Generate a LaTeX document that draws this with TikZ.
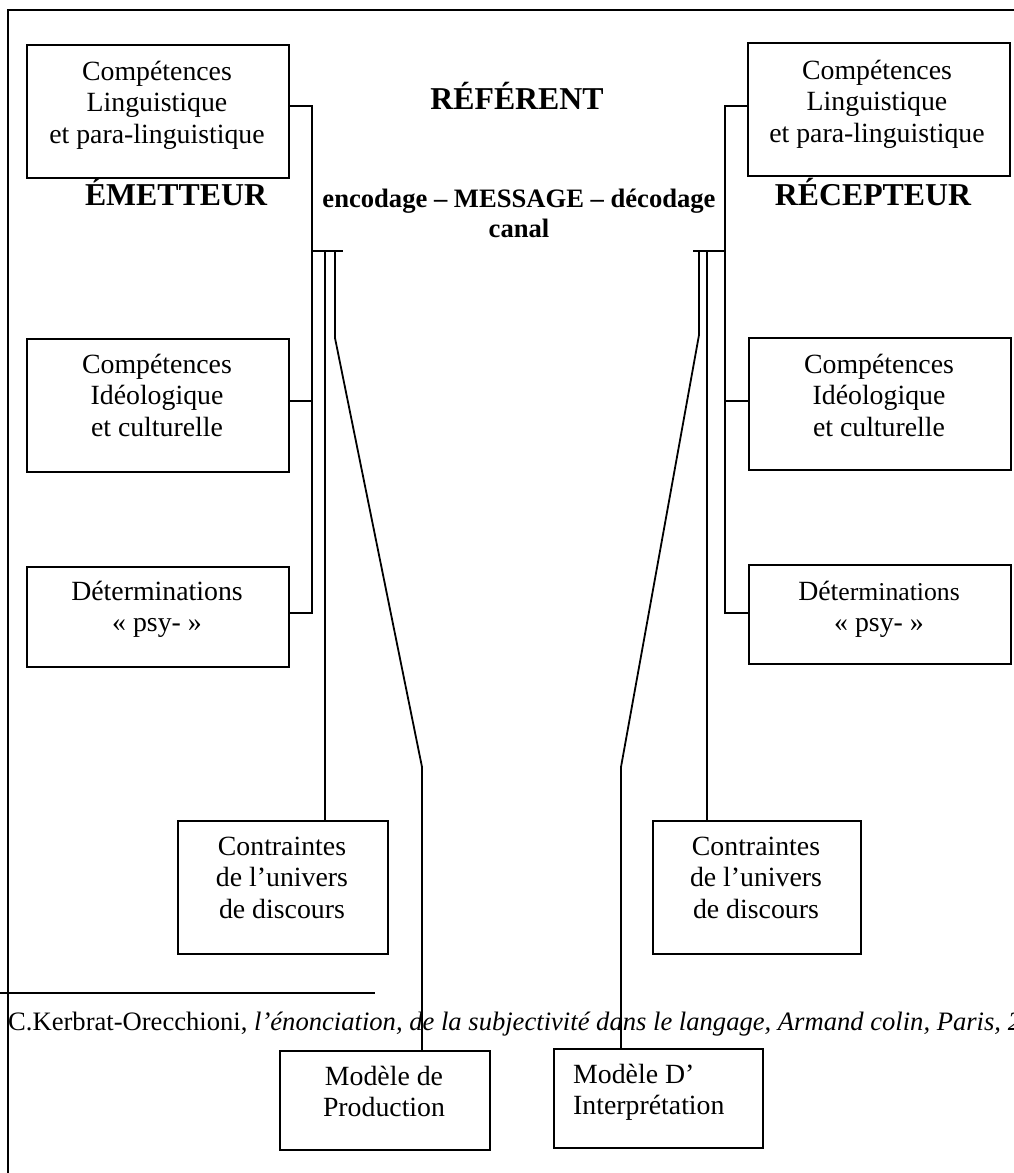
\documentclass[tikz,border=0pt]{standalone}
\usepackage{fontspec}
\setmainfont{Liberation Serif}
\newcommand{\mlc}[1]{\begin{tabular}[t]{@{}c@{}}#1\end{tabular}}
\newcommand{\mll}[1]{\begin{tabular}[t]{@{}l@{}}#1\end{tabular}}
\begin{document}
\begin{tikzpicture}[x=1pt,y=-1pt,
  box/.style={draw, line width=1.8pt, inner sep=0pt, anchor=north west},
  btxt/.style={inner sep=0pt, anchor=base, font=\fontsize{27.8}{31.7}\selectfont},
  ttl/.style={inner sep=0pt, anchor=base, font=\fontsize{31.8}{36}\selectfont\bfseries},
  mid/.style={inner sep=0pt, anchor=base, font=\fontsize{26.6}{30}\selectfont\bfseries},
  wire/.style={line width=1.8pt},
]
\useasboundingbox (0,0) rectangle (1014,1173);
\clip (0,0) rectangle (1014,1173);
\fill[white] (0,0) rectangle (1014,1173);

% frame
\draw[line width=1.9pt] (8,1180) -- (8,10) -- (1020,10);

% boxes
\node[box, minimum width=262pt, minimum height=133pt] (L1) at (26,44) {};
\node[box, minimum width=262pt, minimum height=133pt] (L2) at (26,338) {};
\node[box, minimum width=262pt, minimum height=100pt] (L3) at (26,566) {};
\node[box, minimum width=210pt, minimum height=133pt] (L4) at (177,820) {};
\node[box, minimum width=262pt, minimum height=133pt] (R1) at (747,42) {};
\node[box, minimum width=262pt, minimum height=132pt] (R2) at (748,337) {};
\node[box, minimum width=262pt, minimum height=99pt] (R3) at (748,564) {};
\node[box, minimum width=208pt, minimum height=133pt] (R4) at (652,820) {};
\node[box, minimum width=210pt, minimum height=99pt] (P) at (279,1050) {};
\node[box, minimum width=209pt, minimum height=99pt] (I) at (553,1048) {};

% box texts
\node[btxt] (L1t) at (157,80) {\mlc{Compétences\\Linguistique\\et para-linguistique}};
\node[btxt] (L2t) at (157,373) {\mlc{Compétences\\Idéologique\\et culturelle}};
\node[btxt] (L3t) at (157,600) {\mlc{Déterminations\\« psy- »}};
\node[btxt] (L4t) at (282,855) {\mlc{Contraintes\\de l’univers\\de discours}};
\node[btxt] (R1t) at (877,79) {\mlc{Compétences\\Linguistique\\et para-linguistique}};
\node[btxt] (R2t) at (879,373) {\mlc{Compétences\\Idéologique\\et culturelle}};
\node[btxt] (R3t) at (879,600) {\mlc{Dét{\fontsize{25.7}{31.7}\selectfont erminations}\\« psy- »}};
\node[btxt] (R4t) at (756,855) {\mlc{Contraintes\\de l’univers\\de discours}};
\node[btxt] (Pt) at (384,1085) {\mlc{Modèle de\\Production}};
\node[btxt, anchor=base west] (It) at (573,1083) {\mll{Modèle D’\\Interprétation}};

% titles
\node[ttl] (ref) at (517,109) {RÉFÉRENT};
\node[ttl] (em) at (176,205) {ÉMETTEUR};
\node[ttl] (rec) at (873,205) {RÉCEPTEUR};
\node[mid] (msg) at (519,207) {\mlc{encodage – MESSAGE – décodage\\canal}};

% footnote
\coordinate (fr0) at (0,993);
\coordinate (fr1) at (375,993);
\draw[wire] (fr0) -- (fr1);
\node[inner sep=0pt, anchor=base west, font=\fontsize{26.6}{30}\selectfont] (fn) at (8,1030)
  {C.Kerbrat-Orecchioni, \textit{l’énonciation, de la subjectivité dans le langage, Armand colin, Paris, 2}};

% left connectors
\coordinate (la1) at (312,106);
\coordinate (la2) at (312,401);
\coordinate (la3) at (312,613);
\coordinate (lh) at (312,251);
\coordinate (lhe) at (343,251);
\coordinate (lb) at (325,251);
\coordinate (lc) at (335,251);
\coordinate (lc1) at (335,338);
\coordinate (lc2) at (422,767);
\draw[wire] (L1.east |- la1) -- (la1) -- (la3) -- (L3.east |- la3);
\draw[wire] (L2.east |- la2) -- (la2);
\draw[wire] (lh) -- (lhe);
\draw[wire] (lb) -- (L4.north -| lb);
\draw[wire] (lc) -- (lc1) -- (lc2) -- (P.north -| lc2);

% right connectors
\coordinate (ra1) at (725,106);
\coordinate (ra2) at (725,401);
\coordinate (ra3) at (725,613);
\coordinate (rh) at (725,251);
\coordinate (rhe) at (693,251);
\coordinate (rb) at (707,251);
\coordinate (rc) at (699,251);
\coordinate (rc1) at (699,335);
\coordinate (rc2) at (621,767);
\draw[wire] (R1.west |- ra1) -- (ra1) -- (ra3) -- (R3.west |- ra3);
\draw[wire] (R2.west |- ra2) -- (ra2);
\draw[wire] (rh) -- (rhe);
\draw[wire] (rb) -- (R4.north -| rb);
\draw[wire] (rc) -- (rc1) -- (rc2) -- (I.north -| rc2);
\end{tikzpicture}
\end{document}
